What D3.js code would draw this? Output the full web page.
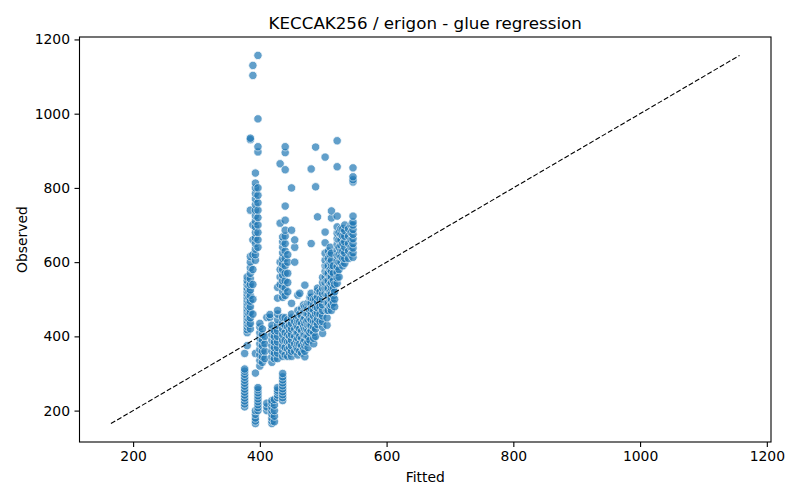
<!DOCTYPE html>
<html>
<head>
<meta charset="utf-8">
<script src="https://cdn.jsdelivr.net/npm/d3@7"></script>
<style>
  body { margin: 0; background: #fff; }
  text { font-family: "DejaVu Sans", sans-serif; fill: #000; }
</style>
</head>
<body>
<div id="chart"></div>
<script>
// Fitted value of each column of points
const fittedColumns = [376, 380, 383, 385, 389, 393, 397, 400, 404, 408, 411, 416, 419, 423, 428, 432, 436, 440, 444, 447, 450, 455, 458, 460, 463, 466, 469, 471, 474, 476, 479, 481, 485, 488, 491, 495, 499, 503, 506, 508, 511, 513, 516, 518, 522, 525, 528, 531, 534, 540, 544, 547];

// Observed values in each column (same order as fittedColumns)
const observedByColumn = [
  [210, 218, 226, 234, 242, 250, 258, 266, 274, 282, 290, 298, 306, 312, 354],
  [375, 410, 418, 426, 434, 442, 450, 458, 466, 474, 482, 490, 498, 506, 514, 522, 530, 540, 550, 560],
  [430, 445, 460, 475, 490, 505, 520, 535],
  [420, 435, 450, 465, 480, 495, 510, 525, 540, 555, 570, 585, 600, 615, 740, 930, 934],
  [460, 500, 540, 580, 620, 660, 700, 1103, 1130],
  [165, 172, 180, 190, 200, 301, 354, 605, 620, 635, 650, 665, 680, 695, 710, 725, 740, 755, 770, 785, 800, 813, 840],
  [200, 208, 216, 224, 232, 240, 248, 256, 262, 640, 660, 680, 700, 720, 740, 760, 780, 800, 897, 911, 986, 1157],
  [320, 335, 350, 365, 380, 395, 410, 425, 435],
  [330, 345, 360, 375, 390, 405, 420],
  [340, 360, 380, 400],
  [200, 210, 220, 451],
  [451, 459],
  [165, 172, 180, 190, 200, 210, 220, 227, 330, 345, 360, 375, 390, 405, 420, 430],
  [170, 185, 200, 215, 230, 340, 355, 370, 385, 400, 415],
  [235, 242, 250, 255, 262, 340, 355, 370, 385, 400, 415, 430, 445, 460, 470, 503, 532],
  [540, 560, 580, 600, 705, 865],
  [227, 235, 243, 251, 259, 267, 275, 283, 291, 300, 346, 360, 375, 390, 405, 420, 435, 451, 505, 520, 535, 550, 565, 580, 595, 610, 625, 640, 655, 668],
  [350, 370, 390, 410, 430, 450, 510, 530, 550, 570, 590, 610, 630, 650, 670, 686, 713, 751, 849, 895, 911],
  [346, 365, 385, 405, 425, 445, 520, 545, 570, 600, 620],
  [355, 370, 385, 400, 415, 430],
  [346, 360, 375, 390, 405, 420, 435, 450, 460, 489, 686, 800],
  [360, 380, 400, 420, 440, 600, 640, 660],
  [370, 390, 410, 430, 450],
  [350, 365, 380, 395, 410, 425, 440, 455, 470, 511],
  [360, 380, 400, 420, 440, 460, 516],
  [355, 375, 395, 415, 435, 455, 475],
  [365, 385, 405, 425, 445, 465, 485],
  [345, 360, 375, 390, 405, 420, 435, 450, 465, 480, 538],
  [380, 400, 420, 440, 460, 480],
  [370, 385, 400, 415, 430, 445, 460, 475, 490],
  [390, 410, 430, 450, 470, 490, 505],
  [416, 430, 445, 460, 475, 490, 505, 516, 650, 851],
  [380, 395, 410, 425, 440, 455, 470, 485, 500],
  [400, 420, 440, 460, 480, 500, 803, 910],
  [432, 447, 462, 477, 492, 507, 522, 530, 722],
  [440, 460, 480, 500, 520],
  [408, 425, 440, 455, 470, 485, 500, 515, 530, 545, 559],
  [516, 530, 545, 560, 575, 590, 605, 624, 652, 681, 883],
  [430, 450, 470, 490, 510, 530, 550, 570, 590],
  [470, 490, 510, 530, 550, 570, 590, 610, 630],
  [480, 500, 520, 540, 560, 580, 600, 620, 640],
  [470, 485, 500, 515, 530, 545, 560, 575, 590, 605, 624, 719, 738],
  [490, 510, 530, 550, 570, 590],
  [480, 500, 520, 540],
  [543, 558, 573, 588, 603, 618, 633, 648, 663, 678, 695, 724, 857, 927],
  [560, 580, 600, 620, 640, 660, 680],
  [600, 615, 630, 645, 660, 675, 690],
  [590, 610, 630, 650, 670, 690],
  [597, 610, 625, 640, 655, 670, 685, 700],
  [610, 630, 650, 670, 690],
  [620, 640, 660, 680, 700],
  [613, 625, 638, 650, 663, 675, 688, 700, 708, 724, 816, 822, 830, 854]
];

const xTicks = [200, 400, 600, 800, 1000, 1200];
const yTicks = [200, 400, 600, 800, 1000, 1200];

const titleText = "KECCAK256 / erigon - glue regression";
const xLabel = "Fitted";
const yLabel = "Observed";

let w = 800;
let h = 500;
let margin = { top: 37, right: 29, bottom: 58, left: 79.5 };

let points = fittedColumns.flatMap(function (f, i) {
  return observedByColumn[i].map(function (o) {
    return { fitted: f, observed: o };
  });
});

// identity line spans the overall min / max of both variables
let lo = d3.min(points, (d) => Math.min(d.fitted, d.observed));
let hi = d3.max(points, (d) => Math.max(d.fitted, d.observed));
let pad = (hi - lo) * 0.05;

let x = d3
  .scaleLinear()
  .domain([lo - pad, hi + pad])
  .range([margin.left, w - margin.right]);

let y = d3
  .scaleLinear()
  .domain([lo - pad, hi + pad])
  .range([h - margin.bottom, margin.top]);

let svg = d3
  .select("#chart")
  .append("svg")
  .attr("width", w)
  .attr("height", h);

svg.append("rect").attr("width", w).attr("height", h).attr("fill", "#fff");

svg
  .append("g")
  .selectAll("circle")
  .data(points)
  .enter()
  .append("circle")
  .attr("cx", (d) => x(d.fitted))
  .attr("cy", (d) => y(d.observed))
  .attr("r", 4.2)
  .attr("fill", "#1f77b4")
  .attr("stroke", "#fff")
  .attr("stroke-width", 0.8)
  .attr("opacity", 0.7);

svg
  .append("line")
  .attr("x1", x(lo))
  .attr("y1", y(lo))
  .attr("x2", x(hi))
  .attr("y2", y(hi))
  .attr("stroke", "#000")
  .attr("stroke-width", 1.1)
  .attr("stroke-dasharray", "5,2.2");

// frame
svg
  .append("rect")
  .attr("x", margin.left)
  .attr("y", margin.top)
  .attr("width", w - margin.left - margin.right)
  .attr("height", h - margin.top - margin.bottom)
  .attr("fill", "none")
  .attr("stroke", "#000")
  .attr("stroke-width", 1.1);

let xAxis = svg
  .append("g")
  .attr("transform", `translate(0,${h - margin.bottom})`)
  .call(d3.axisBottom(x).tickValues(xTicks).tickFormat(d3.format("d")).tickSize(5).tickPadding(4.5));

let yAxis = svg
  .append("g")
  .attr("transform", `translate(${margin.left},0)`)
  .call(d3.axisLeft(y).tickValues(yTicks).tickFormat(d3.format("d")).tickSize(5).tickPadding(4.5));

[xAxis, yAxis].forEach(function (a) {
  a.select(".domain").remove();
  a.selectAll("line").attr("stroke", "#000").attr("stroke-width", 1.1);
  a.selectAll("text").attr("font-size", "13.9px").attr("font-family", "DejaVu Sans");
});

svg
  .append("text")
  .attr("x", (margin.left + w - margin.right) / 2)
  .attr("y", 29)
  .attr("text-anchor", "middle")
  .attr("font-size", "16.7px")
  .text(titleText);

svg
  .append("text")
  .attr("x", (margin.left + w - margin.right) / 2)
  .attr("y", 482)
  .attr("text-anchor", "middle")
  .attr("font-size", "13.9px")
  .text(xLabel);

svg
  .append("text")
  .attr("transform", `translate(27,${(margin.top + h - margin.bottom) / 2}) rotate(-90)`)
  .attr("text-anchor", "middle")
  .attr("font-size", "13.9px")
  .text(yLabel);
</script>
</body>
</html>
